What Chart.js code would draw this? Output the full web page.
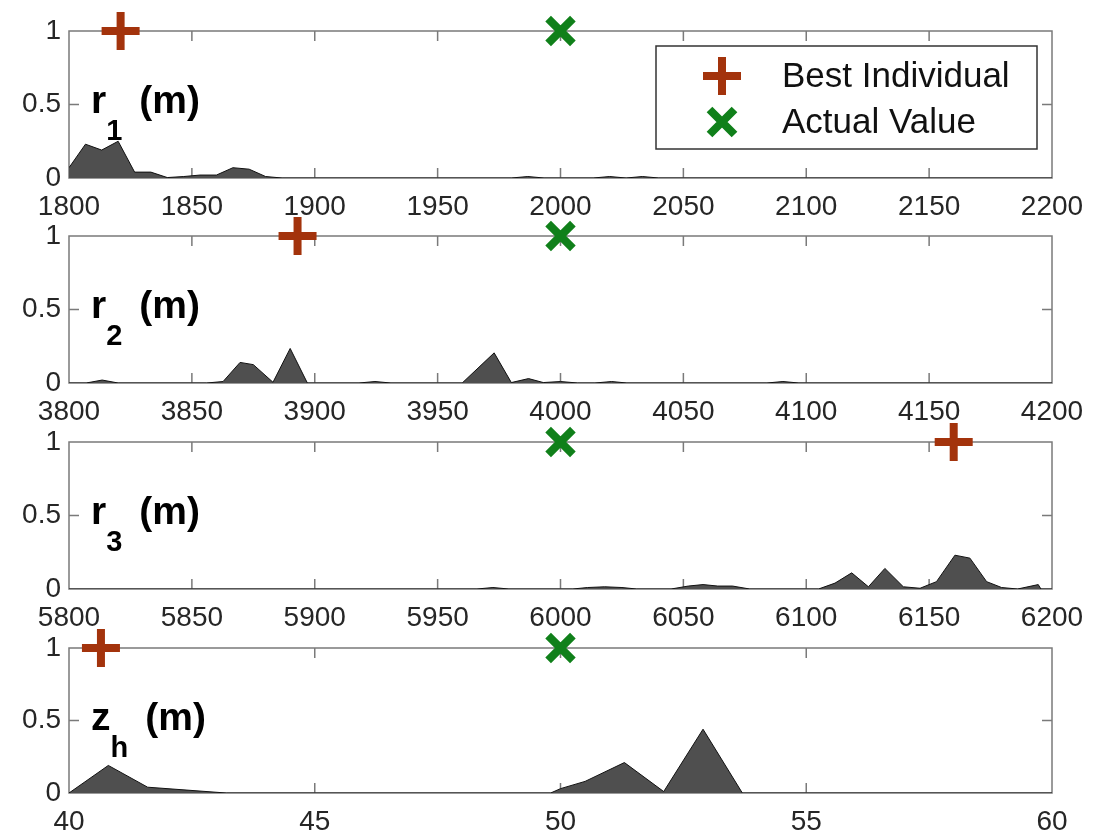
<!DOCTYPE html>
<html>
<head>
<meta charset="utf-8">
<script src="https://cdn.jsdelivr.net/npm/chart.js@4.4.0/dist/chart.umd.min.js"></script>
<style>
body { margin: 0; background: #fff; width: 1098px; height: 836px; position: relative; overflow: hidden; }
.panel { position: absolute; left: 0; width: 1098px; }
</style>
</head>
<body>
<script>
// density curves
const r1X = [1800, 1806.7, 1813.3, 1820, 1826.7, 1833.3, 1840, 1846.7, 1853.3, 1860, 1866.7, 1873.3, 1880, 1886.7, 1980, 1986.7, 1993.3, 2013.3, 2020, 2026.7, 2033.3, 2040, 2200];
const r1Y = [0.07, 0.23, 0.19, 0.25, 0.04, 0.04, 0.003, 0.01, 0.02, 0.02, 0.07, 0.06, 0.01, 0, 0, 0.01, 0, 0, 0.01, 0, 0.01, 0, 0];

const r2X = [3800, 3807, 3813.5, 3820, 3856, 3862.7, 3869.6, 3875, 3883, 3890, 3897, 3918, 3924.5, 3931, 3960, 3973, 3980, 3987, 3993, 4000, 4007, 4014, 4020.8, 4027, 4084, 4090.5, 4097, 4200];
const r2Y = [0, 0, 0.02, 0, 0, 0.01, 0.14, 0.125, 0.005, 0.235, 0, 0, 0.01, 0, 0, 0.205, 0.003, 0.03, 0.003, 0.01, 0, 0, 0.01, 0, 0, 0.01, 0, 0];

const r3X = [5800, 5966, 5972.5, 5979, 6005, 6011, 6018, 6025, 6031, 6045, 6052, 6058, 6064, 6070, 6077, 6105, 6111.7, 6118.5, 6125.3, 6132, 6139.5, 6146.3, 6153, 6160.5, 6166.6, 6173.4, 6179.5, 6186, 6194.4, 6195.5, 6200];
const r3Y = [0, 0, 0.01, 0, 0, 0.01, 0.015, 0.01, 0, 0, 0.02, 0.03, 0.02, 0.02, 0, 0, 0.04, 0.11, 0.015, 0.14, 0.015, 0.005, 0.05, 0.23, 0.21, 0.05, 0.01, 0, 0.03, 0, 0];

const zhX = [40, 40.8, 41.6, 42.4, 43.2, 49.8, 50.0, 50.5, 51.3, 52.1, 52.9, 53.7, 60];
const zhY = [0, 0.19, 0.04, 0.02, 0, 0, 0.03, 0.08, 0.21, 0.01, 0.44, 0, 0];

const bestValues = [1821, 3893, 6160, 40.65];
const actualValues = [2000, 4000, 6000, 50];
const xMins = [1800, 3800, 5800, 40];
const xMaxs = [2200, 4200, 6200, 60];
const xSteps = [50, 50, 50, 5];
const yTicks = [0, 0.5, 1];
const names = [['r', '1'], ['r', '2'], ['r', '3'], ['z', 'h']];
const legendLabels = ['Best Individual', 'Actual Value'];

const curvesX = [r1X, r2X, r3X, zhX];
const curvesY = [r1Y, r2Y, r3Y, zhY];

const plotTops = [30, 235, 441, 647];
const plotHeights = [148, 148, 148, 146];
const padTop = 26;
const axisH = 46;
const plusColor = '#a3330c';
const crossColor = '#10801a';
const textColor = '#262626';
const axisColor = '#7a7a7a';

Chart.defaults.font.family = '"Liberation Sans", Arial, sans-serif';
Chart.defaults.color = textColor;

function drawPlus(ctx, x, y, r, w, color) {
    ctx.save();
    ctx.strokeStyle = color;
    ctx.lineWidth = w;
    ctx.beginPath();
    ctx.moveTo(x - r, y); ctx.lineTo(x + r, y);
    ctx.moveTo(x, y - r); ctx.lineTo(x, y + r);
    ctx.stroke();
    ctx.restore();
}
function drawX(ctx, x, y, r, w, color) {
    ctx.save();
    ctx.strokeStyle = color;
    ctx.lineWidth = w;
    ctx.beginPath();
    ctx.moveTo(x - r, y - r); ctx.lineTo(x + r, y + r);
    ctx.moveTo(x + r, y - r); ctx.lineTo(x - r, y + r);
    ctx.stroke();
    ctx.restore();
}

// box, inward ticks, panel name
const boxPlugin = {
    id: 'box',
    beforeDatasetsDraw(chart) {
        const a = chart.chartArea, ctx = chart.ctx;
        const xs = chart.scales.x, ys = chart.scales.y;
        ctx.save();
        ctx.strokeStyle = axisColor;
        ctx.lineWidth = 1.5;
        ctx.strokeRect(a.left, a.top, a.right - a.left, a.bottom - a.top);
        ctx.beginPath();
        xs.ticks.forEach(function (t) {
            if (t.value <= xs.min || t.value >= xs.max) return;
            const px = xs.getPixelForValue(t.value);
            ctx.moveTo(px, a.bottom); ctx.lineTo(px, a.bottom - 10);
            ctx.moveTo(px, a.top); ctx.lineTo(px, a.top + 10);
        });
        ys.ticks.forEach(function (t) {
            if (t.value <= ys.min || t.value >= ys.max) return;
            const py = ys.getPixelForValue(t.value);
            ctx.moveTo(a.left, py); ctx.lineTo(a.left + 10, py);
            ctx.moveTo(a.right, py); ctx.lineTo(a.right - 10, py);
        });
        ctx.stroke();
        ctx.restore();
    },
    afterDraw(chart, args, opts) {
        const a = chart.chartArea, ctx = chart.ctx;
        const nm = opts.name;
        ctx.save();
        ctx.fillStyle = '#000';
        ctx.textBaseline = 'alphabetic';
        let x = a.left + 22, y = a.top + 82;
        ctx.font = 'bold 39px "Liberation Sans", Arial, sans-serif';
        ctx.fillText(nm[0], x, y);
        x += ctx.measureText(nm[0]).width;
        ctx.font = 'bold 29px "Liberation Sans", Arial, sans-serif';
        ctx.fillText(nm[1], x, y + 27);
        x += ctx.measureText(nm[1]).width + 17;
        ctx.font = 'bold 39px "Liberation Sans", Arial, sans-serif';
        ctx.fillText('(m)', x, y);

        if (opts.legend) {
            const lx = 656, ly = a.top + 15, lw = 381, lh = 103;
            ctx.fillStyle = '#fff';
            ctx.fillRect(lx, ly, lw, lh);
            ctx.strokeStyle = '#333';
            ctx.lineWidth = 1.5;
            ctx.strokeRect(lx, ly, lw, lh);
            drawPlus(ctx, 722, ly + 30, 19, 8, plusColor);
            drawX(ctx, 722, ly + 76, 12.5, 8, crossColor);
            ctx.fillStyle = '#111';
            ctx.font = '35px "Liberation Sans", Arial, sans-serif';
            ctx.textBaseline = 'middle';
            ctx.fillText(legendLabels[0], 782, ly + 31);
            ctx.fillText(legendLabels[1], 782, ly + 77);
        }
        ctx.restore();
    }
};

function makePanel(i) {
    const div = document.createElement('div');
    div.className = 'panel';
    div.style.top = (plotTops[i] - padTop) + 'px';
    const canvas = document.createElement('canvas');
    canvas.width = 1098;
    canvas.height = padTop + plotHeights[i] + axisH;
    div.appendChild(canvas);
    document.body.appendChild(div);

    const pts = curvesX[i].map(function (x, k) { return { x: x, y: curvesY[i][k] }; });

    new Chart(canvas, {
        type: 'scatter',
        data: {
            datasets: [
                {
                    type: 'line',
                    data: pts,
                    fill: 'origin',
                    backgroundColor: '#4f4f4f',
                    borderColor: '#111',
                    borderWidth: 1,
                    pointRadius: 0,
                    tension: 0,
                    order: 3
                },
                {
                    label: legendLabels[0],
                    data: [{ x: bestValues[i], y: 1 }],
                    pointStyle: 'cross',
                    pointRadius: 19,
                    borderWidth: 8,
                    borderColor: plusColor,
                    backgroundColor: plusColor,
                    clip: false,
                    order: 1
                },
                {
                    label: legendLabels[1],
                    data: [{ x: actualValues[i], y: 1 }],
                    pointStyle: 'crossRot',
                    pointRadius: 17.5,
                    borderWidth: 8,
                    borderColor: crossColor,
                    backgroundColor: crossColor,
                    clip: false,
                    order: 0
                }
            ]
        },
        options: {
            responsive: false,
            animation: false,
            devicePixelRatio: 1,
            events: [],
            layout: { padding: { top: padTop, right: 46, left: 0, bottom: 0 } },
            plugins: {
                legend: { display: false },
                tooltip: { enabled: false },
                box: { name: names[i], legend: i === 0 }
            },
            scales: {
                x: {
                    type: 'linear',
                    min: xMins[i],
                    max: xMaxs[i],
                    ticks: {
                        stepSize: xSteps[i], padding: 12, color: textColor, font: { size: 28 }, maxRotation: 0,
                        callback: function (v) { return String(v); }
                    },
                    grid: { display: false, drawTicks: false },
                    border: { display: false },
                    afterFit: function (s) { s.height = axisH; }
                },
                y: {
                    min: 0,
                    max: 1,
                    afterBuildTicks: function (s) { s.ticks = yTicks.map(function (v) { return { value: v }; }); },
                    ticks: {
                        padding: 8, color: textColor, font: { size: 28 },
                        callback: function (v) { return String(v); }
                    },
                    grid: { display: false, drawTicks: false },
                    border: { display: false },
                    afterFit: function (s) { s.width = 69; }
                }
            }
        },
        plugins: [boxPlugin]
    });
}

for (let i = 0; i < 4; i++) makePanel(i);
</script>
</body>
</html>
